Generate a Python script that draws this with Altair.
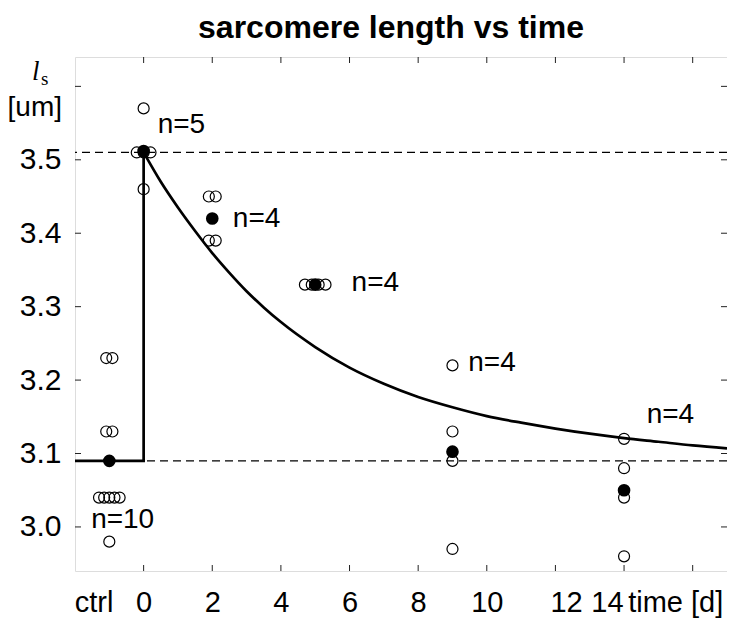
import altair as alt
import pandas as pd

# ---------------- data ----------------
# individual measurements (plotted day position incl. small jitter, value)
obs_day = [-1.09, -0.91, -1.09, -0.91, -1.30, -1.15, -1.00, -0.85, -0.70, -1.00,
           0.0, -0.2, 0.0, 0.2, 0.0,
           1.9, 2.1, 1.9, 2.1,
           4.7, 4.9, 5.1, 5.3,
           9.0, 9.0, 9.0, 9.0,
           14.0, 14.0, 14.0, 14.0]
obs_val = [3.23, 3.23, 3.13, 3.13, 3.04, 3.04, 3.04, 3.04, 3.04, 2.98,
           3.57, 3.51, 3.51, 3.51, 3.46,
           3.45, 3.45, 3.39, 3.39,
           3.33, 3.33, 3.33, 3.33,
           3.22, 3.13, 3.09, 2.97,
           3.12, 3.08, 3.04, 2.96]

# group means
mean_day = [-1.0, 0.0, 2.0, 5.0, 9.0, 14.0]
mean_val = [3.09, 3.512, 3.42, 3.33, 3.1025, 3.05]

# n labels
n_text = ["n=10", "n=5", "n=4", "n=4", "n=4", "n=4"]
n_day = [-1.53, 0.41, 2.6, 6.06, 9.46, 14.66]
n_val = [2.998, 3.537, 3.409, 3.321, 3.212, 3.141]

# fitted curve
curve_day = [0, 0.5, 1, 1.5, 2, 2.5, 3, 3.5, 4, 5, 6, 7, 8, 9, 10, 11, 12, 13, 14, 15, 16, 17]
curve_val = [3.510, 3.470, 3.435, 3.403, 3.373, 3.346, 3.321, 3.299, 3.279, 3.245, 3.217,
             3.195, 3.177, 3.163, 3.151, 3.142, 3.134, 3.127, 3.121, 3.116, 3.111, 3.107]

# step (control level then jump)
step_day = [-2, 0, 0]
step_val = [3.09, 3.09, 3.51]
step_order = [0, 1, 2]

# reference levels
ref_levels = [3.51, 3.09]

# axes
x_label_pos = [-1.46, 0, 2, 4, 6, 8, 10, 12.31, 13.5, 15.49]
x_label_txt = ["ctrl", "0", "2", "4", "6", "8", "10", "12", "14", "time [d]"]
x_tick_vals = [0, 2, 4, 6, 8, 10, 12, 14, 16]
y_label_vals = [3.0, 3.1, 3.2, 3.3, 3.4, 3.5]
y_tick_vals = [3.0, 3.1, 3.2, 3.3, 3.4, 3.5, 3.6]

TITLE = "sarcomere length vs time"

X_DOMAIN = [-2, 17]
Y_DOMAIN = [2.94, 3.64]
W, H = 652, 514
FONT = "Liberation Sans"

# ---------------- frames ----------------
obs_df = pd.DataFrame({"day": obs_day, "val": obs_val})
mean_df = pd.DataFrame({"day": mean_day, "val": mean_val})
n_df = pd.DataFrame({"day": n_day, "val": n_val, "t": n_text})
curve_df = pd.DataFrame({"day": curve_day, "val": curve_val})
step_df = pd.DataFrame({"day": step_day, "val": step_val, "o": step_order})
ref_df = pd.DataFrame({"val": ref_levels})
xt_df = pd.DataFrame({"day": x_tick_vals})
yt_df = pd.DataFrame({"val": y_tick_vals})

pos_js = "[" + ",".join(str(v) for v in x_label_pos) + "]"
txt_js = "[" + ",".join("'" + t + "'" for t in x_label_txt) + "]"

xscale = alt.Scale(domain=X_DOMAIN, nice=False, zero=False)
yscale = alt.Scale(domain=Y_DOMAIN, nice=False, zero=False)

x_axis = alt.Axis(values=x_label_pos, labelExpr=f"{txt_js}[indexof({pos_js}, datum.value)]",
                  title=None, domain=False, ticks=False, grid=False,
                  labelFontSize=29, labelFont=FONT, labelColor="black",
                  labelPadding=17, labelOverlap=False, labelFlush=False, labelBound=False)
y_axis = alt.Axis(values=y_label_vals, format=".1f", title=None, domain=False, ticks=False,
                  grid=False, labelFontSize=30, labelFont=FONT, labelColor="black",
                  labelPadding=14, labelOverlap=False, labelFlush=False, labelBound=False)


def X(field="day"):
    return alt.X(f"{field}:Q", scale=xscale, axis=x_axis)


def Y(field="val"):
    return alt.Y(f"{field}:Q", scale=yscale, axis=y_axis)


ref = alt.Chart(ref_df).mark_rule(color="black", strokeWidth=1.2, strokeDash=[8, 5]).encode(
    y=Y())

step = alt.Chart(step_df).mark_line(color="black", strokeWidth=2.7).encode(
    x=X(), y=Y(), order="o:Q")

curve = alt.Chart(curve_df).mark_line(color="black", strokeWidth=2.7, interpolate="monotone").encode(
    x=X(), y=Y())

obs = alt.Chart(obs_df).mark_point(shape="circle", filled=False, color="black", size=121,
                                   strokeWidth=1.2, opacity=1).encode(x=X(), y=Y())

means = alt.Chart(mean_df).mark_point(shape="circle", filled=True, color="black", size=160,
                                      opacity=1).encode(x=X(), y=Y())

ntext = alt.Chart(n_df).mark_text(align="left", baseline="alphabetic", fontSize=28, font=FONT,
                                  color="black").encode(x=X(), y=Y(), text="t:N")

# inward ticks on all four sides
xt_bottom = alt.Chart(xt_df).mark_rule(color="#222", strokeWidth=1).encode(
    x=X(), y=alt.value(H), y2=alt.value(H - 6))
xt_top = alt.Chart(xt_df).mark_rule(color="#222", strokeWidth=1).encode(
    x=X(), y=alt.value(0), y2=alt.value(6))
yt_left = alt.Chart(yt_df).mark_rule(color="#222", strokeWidth=1).encode(
    y=Y(), x=alt.value(0), x2=alt.value(6))
yt_right = alt.Chart(yt_df).mark_rule(color="#222", strokeWidth=1).encode(
    y=Y(), x=alt.value(W), x2=alt.value(W - 6))

# y-axis quantity label  l_s [um]  and the title
lab_df = pd.DataFrame({"a": [0]})
l_main = alt.Chart(lab_df).mark_text(text="l", font="Liberation Serif", fontStyle="italic",
                                     fontSize=27, align="left", baseline="alphabetic",
                                     color="black").encode(x=alt.value(-43), y=alt.value(23))
l_sub = alt.Chart(lab_df).mark_text(text="s", font="Liberation Serif", fontSize=19,
                                    align="left", baseline="alphabetic",
                                    color="black").encode(x=alt.value(-34), y=alt.value(28))
unit = alt.Chart(lab_df).mark_text(text="[um]", font=FONT, fontSize=28, align="right",
                                   baseline="alphabetic", color="black").encode(
    x=alt.value(-13), y=alt.value(59))
title = alt.Chart(lab_df).mark_text(text=TITLE, font=FONT, fontSize=32, fontWeight="bold",
                                    align="center", baseline="alphabetic", color="black").encode(
    x=alt.value(316), y=alt.value(-19))

chart = alt.layer(
    ref, step, curve, obs, means, ntext, xt_bottom, xt_top, yt_left, yt_right,
    l_main, l_sub, unit, title
).properties(
    width=W, height=H,
    autosize=alt.AutoSizeParams(type="none"),
    padding={"left": 67, "top": 49, "right": 0, "bottom": 50},
).configure_view(
    stroke="#222", strokeWidth=1, fill="white"
).configure(background="white")

chart.save("out.html", embed_options={"renderer": "svg", "actions": False})
